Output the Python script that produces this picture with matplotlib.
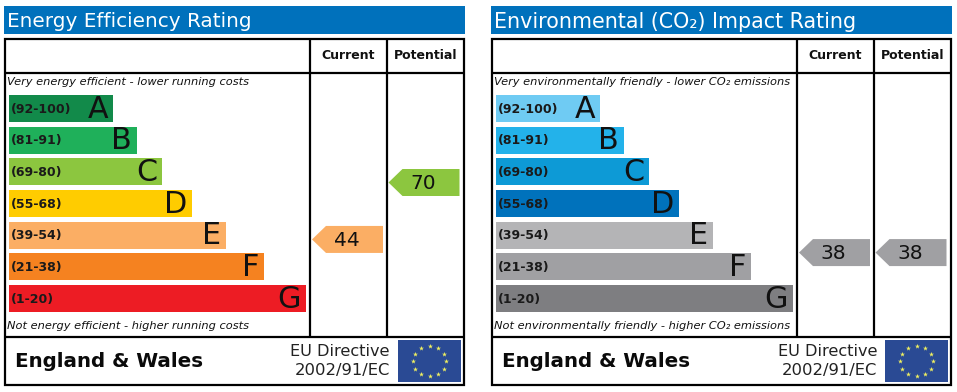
import numpy as np
import matplotlib
matplotlib.use("Agg")
import matplotlib.pyplot as plt
from matplotlib.patches import Rectangle, Polygon

plt.rcParams['font.family'] = 'DejaVu Sans'

grades = ["A", "B", "C", "D", "E", "F", "G"]
bands = ["(92-100)", "(81-91)", "(69-80)", "(55-68)", "(39-54)", "(21-38)", "(1-20)"]
energy_colors = ["#128a4a", "#1fb05a", "#8cc63f", "#ffcc00", "#fbae64", "#f58220", "#ed1c24"]
env_colors = ["#6fcbf3", "#23b2ea", "#0d9ad6", "#0072bc", "#b4b4b6", "#a0a0a3", "#7e7e81"]
bar_lengths = [104, 128, 153, 183, 217, 255, 297]
titles = ["Energy Efficiency Rating", "Environmental (CO₂) Impact Rating"]
title_sizes = [14.45, 14.85]
top_notes = ["Very energy efficient - lower running costs",
             "Very environmentally friendly - lower CO₂ emissions"]
bottom_notes = ["Not energy efficient - higher running costs",
                "Not environmentally friendly - higher CO₂ emissions"]
current_vals = [44, 38]
potential_vals = [70, 38]
current_cols = ["#fbae64", "#a0a0a3"]
potential_cols = ["#8cc63f", "#a0a0a3"]
headers = ["Current", "Potential"]

fig = plt.figure(figsize=(9.57, 3.92), dpi=100)
ax = fig.add_axes([0, 0, 1, 1])
ax.set_xlim(0, 957)
ax.set_ylim(392, 0)
ax.axis("off")

FLAG = "#2a4a94"
STAR = "#f0f060"
BLUE = "#0071bc"
LW = 1.6


def value_y(v):
    return 182.5 + (70 - v) * 2.19


def arrow(x0, val, col):
    yc = value_y(val)
    h = 13.5
    ax.add_patch(Polygon([(x0, yc), (x0 + 14, yc - h), (x0 + 71, yc - h),
                          (x0 + 71, yc + h), (x0 + 14, yc + h)],
                         closed=True, fc=col, ec="none", zorder=3))
    ax.text(x0 + 34.5, yc - 1, str(val), fontsize=14.5, ha="center", va="center_baseline",
            color="#111111", zorder=4)


def panel(o, idx, colors):
    ax.add_patch(Rectangle((4 + o, 6), 461, 28, fc=BLUE, ec="none"))
    ax.text(7 + o, 19.5, titles[idx], fontsize=title_sizes[idx], color="white", ha="left",
            va="center_baseline")
    ax.add_patch(Rectangle((5 + o, 39), 459, 346, ec="black", lw=LW, zorder=5, fill=False))
    ax.plot([5 + o, 464 + o], [73, 73], color="black", lw=LW, zorder=5, solid_capstyle="butt")
    ax.plot([5 + o, 464 + o], [337, 337], color="black", lw=LW, zorder=5, solid_capstyle="butt")
    for x in (310, 387):
        ax.plot([x + o, x + o], [39, 337], color="black", lw=LW, zorder=5, solid_capstyle="butt")
    ax.text(348.5 + o, 53.5, headers[0], fontsize=9, fontweight="bold", ha="center",
            va="center_baseline", color="#111111")
    ax.text(425.5 + o, 53.5, headers[1], fontsize=9, fontweight="bold", ha="center",
            va="center_baseline", color="#111111")
    ax.text(7 + o, 81, top_notes[idx], fontsize=8.17, style="italic", ha="left",
            va="center_baseline", color="#111111")
    ax.text(7 + o, 325, bottom_notes[idx], fontsize=8.17, style="italic", ha="left",
            va="center_baseline", color="#111111")
    ys = 108.5 + np.arange(7) * 31.67
    ax.barh(ys, bar_lengths, height=27, left=9 + o, color=colors, edgecolor="none", zorder=2)
    for y, L, g, b in zip(ys, bar_lengths, grades, bands):
        ax.text(11 + o, y - 1, b, fontsize=9.0, fontweight="bold",
                ha="left", va="center_baseline", color="#1a1a1a", zorder=3)
        ax.text(9 + o + L - 5, y - 2.5, g, fontsize=21.7, ha="right", va="center_baseline",
                color="#111111", zorder=3)
    arrow(312 + o, current_vals[idx], current_cols[idx])
    arrow(388.5 + o, potential_vals[idx], potential_cols[idx])
    ax.text(15 + o, 359.5, "England & Wales", fontsize=14.3, fontweight="bold", ha="left",
            va="center_baseline", color="#0a0a0a")
    ax.text(390 + o, 349.5, "EU Directive", fontsize=11.6, ha="right", va="center_baseline", color="#222222")
    ax.text(390 + o, 368.5, "2002/91/EC", fontsize=11.8, ha="right", va="center_baseline", color="#222222")
    ax.add_patch(Rectangle((398 + o, 340), 63, 42, fc=FLAG, ec="none"))
    ang = np.arange(12) * np.pi / 6
    ax.scatter(429.5 + o + 16.5 * np.sin(ang), 361 - 15 * np.cos(ang), marker="*", s=14,
               color=STAR, linewidths=0, zorder=6)


panel(0, 0, energy_colors)
panel(487, 1, env_colors)

fig.savefig("out.png", dpi=100, facecolor="white")
